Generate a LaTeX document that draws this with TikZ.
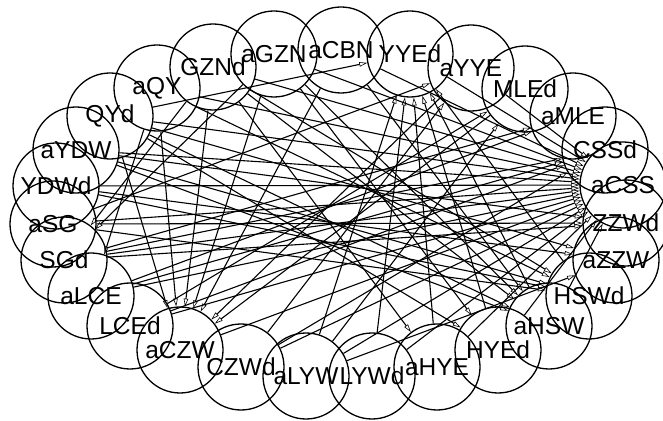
\documentclass[tikz,border=0pt]{standalone}
\usepackage{fontspec}
\setmainfont{Liberation Sans}
\usetikzlibrary{arrows.meta}
\begin{document}
\begin{tikzpicture}[x=1pt,y=1pt,
  nd/.style={circle,draw,line width=1.3pt,minimum size=86pt,inner sep=0pt,
    font=\fontsize{24.5}{29}\selectfont},
  conn/.style={line width=1.1pt,-{Triangle[open,length=8pt,width=4.5pt,line width=0.6pt]}}]
\useasboundingbox (0,0) rectangle (663,420);
% nodes
\node[nd] (aCBN) at (341,370) {aCBN};
\node[nd] (YYEd) at (410,366) {YYEd};
\node[nd] (aYYE) at (471,352) {aYYE};
\node[nd] (MLEd) at (525,331) {MLEd};
\node[nd] (aMLE) at (573,304) {aMLE};
\node[nd] (CSSd) at (605,270) {CSSd};
\node[nd] (aCSS) at (623,235) {aCSS};
\node[nd] (ZZWd) at (626,197) {ZZWd};
\node[nd] (aZZW) at (616,160) {aZZW};
\node[nd] (HSWd) at (589,124) {HSWd};
\node[nd] (aHSW) at (549,94) {aHSW};
\node[nd] (HYEd) at (498,70) {HYEd};
\node[nd] (aHYE) at (437,53) {aHYE};
\node[nd] (LYWd) at (372,44) {LYWd};
\node[nd] (aLYW) at (306,44) {aLYW};
\node[nd] (CZWd) at (241,53) {CZWd};
\node[nd] (aCZW) at (180,70) {aCZW};
\node[nd] (LCEd) at (130,94) {LCEd};
\node[nd] (aLCE) at (91,124) {aLCE};
\node[nd] (SGd) at (64,160) {SGd};
\node[nd] (aSG) at (53,196) {aSG};
\node[nd] (YDWd) at (56,234) {YDWd};
\node[nd] (aYDW) at (76,270) {aYDW};
\node[nd] (QYd) at (110,304) {QYd};
\node[nd] (aQY) at (157,332) {aQY};
\node[nd] (GZNd) at (213,353) {GZNd};
\node[nd] (aGZN) at (274,366) {aGZN};
% edges into aCSS
\foreach \s in {YDWd,aYDW,QYd,aQY,GZNd,aGZN,aCBN,aSG,SGd,aLCE,LCEd,aCZW,CZWd,aLYW,LYWd,aHYE,HYEd,aHSW,YYEd,aYYE}
  \draw[conn] (\s) -- (aCSS);
% edges into YYEd
\foreach \s in {LYWd,aHYE,HYEd,aHSW,aLYW,HSWd,QYd}
  \draw[conn] (\s) -- (YYEd);
% edges into aCZW
\foreach \s in {aQY,GZNd,aGZN,QYd,aCBN,MLEd,aYYE}
  \draw[conn] (\s) -- (aCZW);
% others
\draw[conn] (GZNd) -- (SGd);
\draw[conn] (aGZN) -- (SGd);
\draw[conn] (aQY) -- (aLCE);
\foreach \s in {LCEd,aLCE,CZWd,SGd}
  \draw[conn] (\s) -- (CSSd);
\foreach \s in {aQY,aYDW,GZNd,YDWd,aSG}
  \draw[conn] (\s) -- (HSWd);
\foreach \s in {QYd,aGZN,aCBN,aYDW,GZNd}
  \draw[conn] (\s) -- (aHSW);
\draw[conn] (aLCE) -- (aMLE);
\draw[conn] (SGd) -- (aMLE);
\foreach \s in {aSG,SGd,aYDW}
  \draw[conn] (\s) -- (ZZWd);
\foreach \s in {YDWd,QYd,aLYW}
  \draw[conn] (\s) -- (aZZW);
\draw[conn] (CZWd) -- (aYYE);
\draw[conn] (aSG) -- (aYYE);
\draw[conn] (LCEd) -- (MLEd);
\draw[conn] (aLYW) -- (MLEd);
\draw[conn] (aGZN) -- (HYEd);
\draw[conn] (QYd) -- (HYEd);
\draw[conn] (GZNd) -- (aHYE);
\end{tikzpicture}
\end{document}
